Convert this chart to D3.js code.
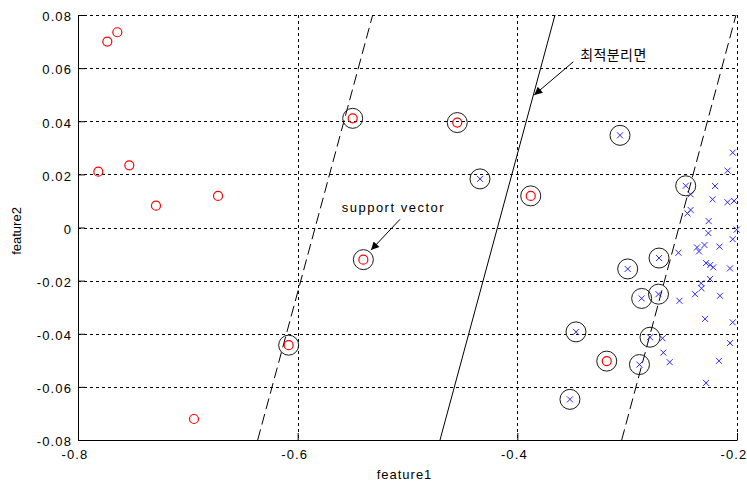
<!DOCTYPE html>
<html>
<head>
<meta charset="utf-8">
<script src="https://cdn.jsdelivr.net/npm/d3@7"></script>
<style>
    body { margin: 0; background: #fff; }
    svg { display: block; }
    text { font-family: "Liberation Sans", Arial, sans-serif; fill: #000; }
</style>
</head>
<body>
<svg id="chart" width="747" height="484"></svg>
<script>
// class 1 (red circles)
const redX = [-0.7733, -0.7642, -0.7815, -0.7533, -0.7290, -0.6725, -0.6944, -0.6082, -0.5499, -0.4547, -0.3878, -0.5402, -0.3186];
const redY = [0.0700, 0.0735, 0.0210, 0.0234, 0.0082, 0.0119, -0.0721, -0.0443, 0.0411, 0.0395, 0.0119, -0.0121, -0.0503];

// class 2 (blue crosses)
const blueX = [-0.4340, -0.3065, -0.2467, -0.2039, -0.2085, -0.2200, -0.2223, -0.2087, -0.2027, -0.2423,
    -0.2422, -0.2451, -0.2258, -0.2261, -0.2003, -0.2039, -0.2159, -0.2296, -0.2364, -0.2346,
    -0.2533, -0.2710, -0.2995, -0.2282, -0.2243, -0.2216, -0.2064, -0.2246, -0.2326, -0.2323,
    -0.2382, -0.2155, -0.2524, -0.2715, -0.2868, -0.2291, -0.2039, -0.2792, -0.3466, -0.2678,
    -0.2064, -0.2671, -0.2613, -0.2164, -0.2888, -0.2282, -0.3521];
const blueY = [0.0183, 0.0347, 0.0157, 0.0282, 0.0214, 0.0156, 0.0106, 0.0095, 0.0100, 0.0125,
    0.0066, 0.0053, 0.0024, -0.0021, -0.0008, -0.0044, -0.0072, -0.0066, -0.0075, -0.0090,
    -0.0095, -0.0115, -0.0156, -0.0134, -0.0141, -0.0150, -0.0154, -0.0194, -0.0210, -0.0229,
    -0.0251, -0.0257, -0.0276, -0.0251, -0.0267, -0.0344, -0.0357, -0.0413, -0.0393, -0.0417,
    -0.0435, -0.0471, -0.0507, -0.0502, -0.0516, -0.0585, -0.0647];

// support vectors (black rings)
const svX = [-0.6082, -0.5499, -0.4547, -0.3878, -0.5402, -0.3186,
    -0.4340, -0.3065, -0.2467, -0.2710, -0.2995, -0.2715, -0.2868, -0.2792, -0.3466, -0.2888, -0.3521];
const svY = [-0.0443, 0.0411, 0.0395, 0.0119, -0.0121, -0.0503,
    0.0183, 0.0347, 0.0157, -0.0115, -0.0156, -0.0251, -0.0267, -0.0413, -0.0393, -0.0516, -0.0647];

// hyperplane and margins: [x at y=-0.08, x at y=0.08]
const lineY = [-0.08, 0.08];
const hyperX = [-0.4704, -0.3657];
const marginLowX = [-0.6364, -0.5317];
const marginHighX = [-0.3050, -0.2009];

const xTicks = [-0.8, -0.6, -0.4, -0.2];
const xTickLabels = ["-0.8", "-0.6", "-0.4", "-0.2"];
const yTicks = [-0.08, -0.06, -0.04, -0.02, 0, 0.02, 0.04, 0.06, 0.08];
const yTickLabels = ["-0.08", "-0.06", "-0.04", "-0.02", "0", "0.02", "0.04", "0.06", "0.08"];

class SvmPlot {
    constructor(selector) {
        this.svg = d3.select(selector);
        this.margin = {left: 78, top: 15, right: 10, bottom: 44};
        this.width = 747 - this.margin.left - this.margin.right;
        this.height = 484 - this.margin.top - this.margin.bottom;

        this.x = d3.scaleLinear().domain([-0.8, -0.2]).range([0, this.width]);
        this.y = d3.scaleLinear().domain([-0.08, 0.08]).range([this.height, 0]);

        this.g = this.svg.append("g")
            .attr("transform", `translate(${this.margin.left},${this.margin.top})`);

        this.drawGrid();
        this.drawLines();
        this.drawPoints();
        this.drawAxes();
        this.drawNotes();
    }

    drawGrid() {
        const grid = this.g.append("g").attr("class", "grid")
            .attr("stroke", "#000").attr("stroke-width", 1).attr("stroke-dasharray", "3,3");

        grid.selectAll("line.gx")
            .data(xTicks.slice(1))
            .enter().append("line")
            .attr("x1", d => Math.round(this.x(d)) + 0.5)
            .attr("x2", d => Math.round(this.x(d)) + 0.5)
            .attr("y1", 0).attr("y2", this.height);

        grid.selectAll("line.gy")
            .data(yTicks.slice(1))
            .enter().append("line")
            .attr("y1", d => Math.round(this.y(d)) + 0.5)
            .attr("y2", d => Math.round(this.y(d)) + 0.5)
            .attr("x1", 0).attr("x2", this.width);
    }

    drawLines() {
        const line = d3.line()
            .x(d => this.x(d[0]))
            .y(d => this.y(d[1]));

        const sets = [
            {xs: marginLowX, dash: "11,5"},
            {xs: hyperX, dash: null},
            {xs: marginHighX, dash: "11,5"}
        ];

        this.g.selectAll("path.sep")
            .data(sets)
            .enter().append("path")
            .attr("class", "sep")
            .attr("d", d => line(d.xs.map((v, i) => [v, lineY[i]])))
            .attr("fill", "none")
            .attr("stroke", "#000")
            .attr("stroke-width", 1)
            .attr("stroke-dasharray", d => d.dash);
    }

    drawPoints() {
        this.g.append("g").selectAll("circle")
            .data(d3.range(redX.length))
            .enter().append("circle")
            .attr("cx", i => this.x(redX[i]))
            .attr("cy", i => this.y(redY[i]))
            .attr("r", 4.5)
            .attr("fill", "none")
            .attr("stroke", "#ff0000")
            .attr("stroke-width", 1.2);

        this.g.append("g").selectAll("path")
            .data(d3.range(blueX.length))
            .enter().append("path")
            .attr("transform", i => `translate(${this.x(blueX[i])},${this.y(blueY[i])})`)
            .attr("d", "M-3,-3L3,3M-3,3L3,-3")
            .attr("stroke", "#2a2aff")
            .attr("stroke-width", 1);

        this.g.append("g").selectAll("circle")
            .data(d3.range(svX.length))
            .enter().append("circle")
            .attr("cx", i => this.x(svX[i]))
            .attr("cy", i => this.y(svY[i]))
            .attr("r", 10)
            .attr("fill", "none")
            .attr("stroke", "#1a1a1a")
            .attr("stroke-width", 1);
    }

    drawAxes() {
        const xAxis = d3.axisBottom(this.x)
            .tickValues(xTicks)
            .tickFormat((d, i) => xTickLabels[i])
            .tickSizeInner(-7)
            .tickSizeOuter(0)
            .tickPadding(10);

        const yAxis = d3.axisLeft(this.y)
            .tickValues(yTicks)
            .tickFormat((d, i) => yTickLabels[i])
            .tickSizeInner(-7)
            .tickSizeOuter(0)
            .tickPadding(6);

        const gx = this.g.append("g")
            .attr("transform", `translate(0,${this.height})`)
            .call(xAxis);
        const gy = this.g.append("g").call(yAxis);

        [gx, gy].forEach(a => {
            a.select(".domain").attr("stroke", "#000");
            a.selectAll(".tick line").attr("stroke", "#000");
            a.selectAll(".tick text")
                .attr("fill", "#000")
                .style("font-size", "13px")
                .attr("letter-spacing", "1.1px");
        });
        gy.selectAll(".tick text").attr("dy", "0.45em");
        // matlab draws these a little left of the tick
        gx.selectAll(".tick text").attr("x", -3.5);

        this.g.append("text")
            .attr("x", this.width / 2 - 3)
            .attr("y", this.height + 39)
            .attr("text-anchor", "middle")
            .attr("letter-spacing", "1px")
            .style("font-size", "13px")
            .text("feature1");

        this.g.append("text")
            .attr("transform", `translate(${21 - this.margin.left},${231 - this.margin.top}) rotate(-90)`)
            .attr("text-anchor", "middle")
            .style("font-size", "13px")
            .text("feature2");
    }

    drawNotes() {
        const defs = this.svg.append("defs");
        defs.append("marker")
            .attr("id", "head")
            .attr("viewBox", "0 0 10 10")
            .attr("refX", 10).attr("refY", 5)
            .attr("markerUnits", "userSpaceOnUse")
            .attr("markerWidth", 10).attr("markerHeight", 8)
            .attr("orient", "auto")
            .append("path")
            .attr("d", "M0,0L10,5L0,10z")
            .attr("fill", "#000");

        const notes = [
            {text: "최적분리면", tx: -0.3427, ty: 0.0630, from: [-0.3490, 0.0624], to: [-0.3846, 0.0499], cjk: true},
            {text: "support vector", tx: -0.5599, ty: 0.0059, from: [-0.5068, 0.0031], to: [-0.5332, -0.0085], cjk: false}
        ];

        notes.forEach(n => {
            this.g.append("line")
                .attr("x1", this.x(n.from[0])).attr("y1", this.y(n.from[1]))
                .attr("x2", this.x(n.to[0])).attr("y2", this.y(n.to[1]))
                .attr("stroke", "#000")
                .attr("stroke-width", 1)
                .attr("marker-end", "url(#head)");

            this.g.append("text")
                .attr("x", this.x(n.tx))
                .attr("y", this.y(n.ty))
                .attr("letter-spacing", n.cjk ? "0.4px" : "1.5px")
                .style("font-family", n.cjk ? "'Noto Sans CJK KR', sans-serif" : null)
                .style("font-size", n.cjk ? "14px" : "13px")
                .text(n.text);
        });
    }
}

new SvmPlot("#chart");
</script>
</body>
</html>
